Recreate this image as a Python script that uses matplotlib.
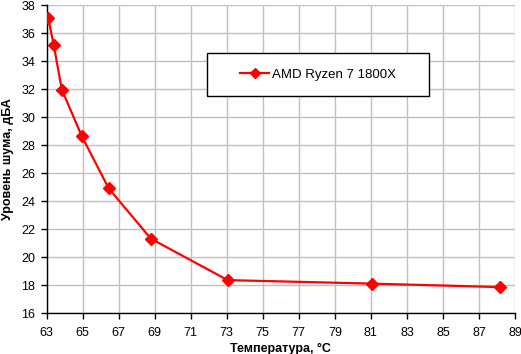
import matplotlib
matplotlib.use("Agg")
import matplotlib.pyplot as plt
from matplotlib.patches import Rectangle

plt.rcParams['font.family'] = ['Liberation Sans', 'DejaVu Sans']

# data
temps = [63.1, 63.4, 63.85, 64.95, 66.45, 68.8, 73.05, 81.05, 88.15]
noise = [37.05, 35.15, 31.95, 28.65, 24.9, 21.3, 18.35, 18.1, 17.85]
series_name = "AMD Ryzen 7 1800X"
xticks = list(range(63, 90, 2))
yticks = list(range(16, 39, 2))

fig = plt.figure(figsize=(5.21, 3.54), dpi=100)
ax = fig.add_axes([0.0893, 0.1158, 0.8993, 0.870])

ax.plot(temps, noise, color="#ff0000", lw=1.6, marker="D", markersize=6,
        label=series_name, zorder=3)

ax.set_xlim(63, 89)
ax.set_ylim(16, 38)
ax.set_xticks(xticks)
ax.set_yticks(yticks)
ax.grid(True, color="#c0c0c0", lw=1)
ax.set_axisbelow(True)
for s in ["top", "right"]:
    ax.spines[s].set_visible(False)
for s in ["left", "bottom"]:
    ax.spines[s].set_color("black")
    ax.spines[s].set_linewidth(1)
ax.tick_params(direction="out", length=4, width=1, labelsize=9)
ax.tick_params(axis="x", pad=6)
ax.tick_params(axis="y", pad=4)

ax.set_xlabel("Температура, °C", fontweight="bold", fontsize=9, labelpad=3)
ax.set_ylabel("Уровень шума, дБА", fontweight="bold", fontsize=9, labelpad=5)

# legend box
fig.patches.append(Rectangle((207 / 521, 1 - 96 / 354), 222 / 521, 43 / 354,
                             transform=fig.transFigure, facecolor="white",
                             edgecolor="black", lw=1, zorder=5))
leg = fig.legend(loc="center", bbox_to_anchor=(318 / 521, 1 - 74.5 / 354),
                 frameon=False, fontsize=9.5, handlelength=2.2, handletextpad=0.2,
                 markerscale=0.8)
leg.set_zorder(6)

fig.savefig("out.png", dpi=100)
